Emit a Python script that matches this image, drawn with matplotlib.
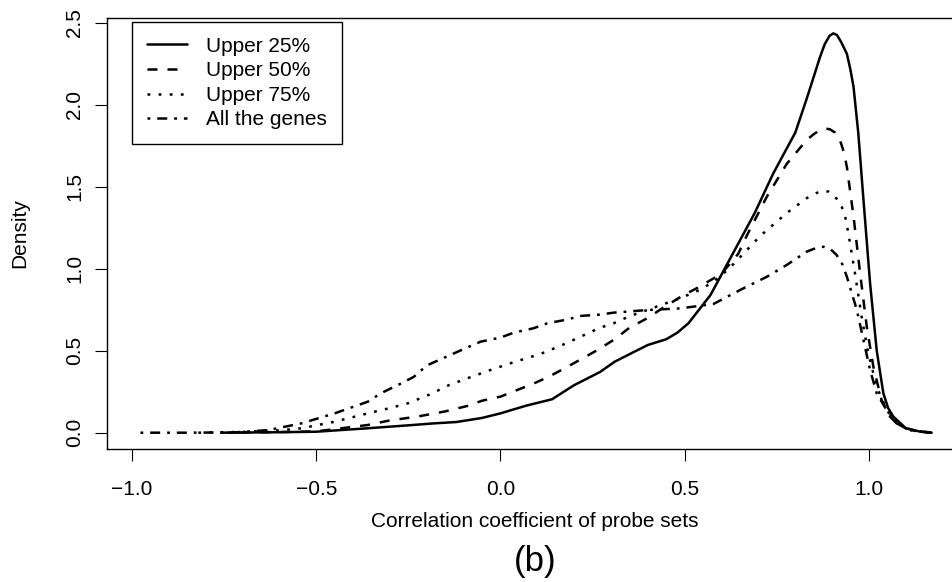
import matplotlib
matplotlib.use("Agg")
import matplotlib.pyplot as plt

plt.rcParams["font.family"] = ["Liberation Sans", "DejaVu Sans"]
plt.rcParams["lines.scale_dashes"] = False

# Kernel density estimates of probe-set correlation coefficients
upper25_x = [-0.74, -0.60, -0.50, -0.36, -0.25, -0.18, -0.12, -0.05, 0.00, 0.07,
             0.14, 0.20, 0.27, 0.31, 0.36, 0.40, 0.45, 0.48, 0.51, 0.57, 0.63,
             0.69, 0.74, 0.80, 0.83, 0.85, 0.867, 0.88, 0.893, 0.903, 0.913, 0.925,
             0.94, 0.949, 0.958, 0.971, 0.985, 1.003, 1.021, 1.039, 1.052, 1.066,
             1.10, 1.14, 1.17]
upper25_y = [0.000, 0.003, 0.006, 0.027, 0.045, 0.057, 0.065, 0.090, 0.118, 0.165,
             0.204, 0.290, 0.370, 0.433, 0.490, 0.535, 0.570, 0.610, 0.667, 0.840, 1.090,
             1.340, 1.580, 1.830, 2.030, 2.170, 2.290, 2.370, 2.420, 2.435, 2.425, 2.380,
             2.310, 2.220, 2.110, 1.826, 1.420, 0.910, 0.500, 0.240, 0.150, 0.098,
             0.027, 0.006, 0.000]

upper50_x = [-0.76, -0.60, -0.50, -0.36, -0.30, -0.226, -0.15, -0.09, -0.05, 0.00,
             0.09, 0.13, 0.18, 0.26, 0.31, 0.35, 0.40, 0.44, 0.49, 0.54, 0.60,
             0.645, 0.668, 0.723, 0.777, 0.831, 0.85, 0.867, 0.88, 0.894, 0.908,
             0.921, 0.932, 0.940, 0.958, 0.976, 0.994, 1.012, 1.034, 1.057, 1.084,
             1.13, 1.17]
upper50_y = [0.000, 0.004, 0.008, 0.047, 0.075, 0.098, 0.130, 0.163, 0.195, 0.220,
             0.300, 0.340, 0.400, 0.500, 0.570, 0.640, 0.700, 0.760, 0.830, 0.890, 0.970,
             1.090, 1.200, 1.440, 1.640, 1.785, 1.820, 1.846, 1.855, 1.850, 1.830,
             1.785, 1.710, 1.620, 1.320, 0.970, 0.646, 0.400, 0.200, 0.098, 0.037,
             0.010, 0.000]

upper75_x = [-0.82, -0.70, -0.60, -0.54, -0.45, -0.36, -0.30, -0.25, -0.19, -0.14,
             -0.086, -0.03, 0.036, 0.108, 0.163, 0.217, 0.27, 0.307, 0.35, 0.398,
             0.45, 0.488, 0.54, 0.578, 0.62, 0.65, 0.705, 0.777, 0.831, 0.855, 0.876,
             0.89, 0.903, 0.915, 0.926, 0.936, 0.944, 0.962, 0.980, 0.998, 1.021,
             1.048, 1.075, 1.11, 1.17]
upper75_y = [0.000, 0.005, 0.014, 0.027, 0.067, 0.118, 0.150, 0.180, 0.235, 0.290,
             0.335, 0.380, 0.430, 0.480, 0.530, 0.585, 0.640, 0.667, 0.710, 0.748,
             0.790, 0.820, 0.870, 0.920, 1.000, 1.070, 1.200, 1.340, 1.430, 1.460, 1.475,
             1.470, 1.449, 1.420, 1.378, 1.310, 1.216, 0.972, 0.707, 0.484, 0.280,
             0.138, 0.057, 0.015, 0.000]

all_x = [-0.977, -0.85, -0.72, -0.63, -0.54, -0.45, -0.36, -0.325, -0.27, -0.235,
         -0.20, -0.14, -0.10, -0.054, 0.00, 0.036, 0.09, 0.127, 0.181, 0.217, 0.27,
         0.307, 0.398, 0.488, 0.578, 0.65, 0.723, 0.777, 0.831, 0.855, 0.876, 0.895,
         0.912, 0.927, 0.940, 0.967, 0.985, 1.003, 1.021, 1.048, 1.075, 1.11, 1.17]
all_y = [0.000, 0.000, 0.002, 0.016, 0.057, 0.118, 0.189, 0.240, 0.300, 0.341,
         0.410, 0.470, 0.510, 0.555, 0.580, 0.610, 0.637, 0.667, 0.690, 0.712, 0.720,
         0.732, 0.748, 0.758, 0.785, 0.870, 0.951, 1.023, 1.104, 1.125, 1.134, 1.120,
         1.084, 1.030, 0.951, 0.748, 0.565, 0.382, 0.240, 0.138, 0.057, 0.015, 0.000]

series_labels = ["Upper 25%", "Upper 50%", "Upper 75%", "All the genes"]
x_ticks = [-1.0, -0.5, 0.0, 0.5, 1.0]
y_ticks = [0.0, 0.5, 1.0, 1.5, 2.0, 2.5]

W, H = 953, 582
fig = plt.figure(figsize=(W / 100, H / 100), dpi=100)
ax = fig.add_axes([107 / W, (H - 449) / H, (963 - 107) / W, (449 - 18) / H])

lw = 1.8
styles = [
    dict(linestyle="-"),
    dict(linestyle=(0, (7.2, 7.2))),
    dict(linestyle=(0, (2.0, 6.0))),
    dict(linestyle=(0, (2.0, 5.0, 7.2, 5.0))),
]
data = [(upper25_x, upper25_y), (upper50_x, upper50_y),
        (upper75_x, upper75_y), (all_x, all_y)]
for (xs, ys), lab, st in zip(data, series_labels, styles):
    ax.plot(xs, ys, color="black", lw=lw, label=lab,
            solid_joinstyle="round", solid_capstyle="round",
            dash_joinstyle="round", **st)

ax.set_xlim(-1.0678, 1.2551)
ax.set_ylim(-0.0994, 2.5287)
ax.set_xticks(x_ticks)
ax.set_yticks(y_ticks)
ax.set_xticklabels([f"{v:.1f}".replace("-", "\u2212") for v in x_ticks])
ax.set_yticklabels([f"{v:.1f}" for v in y_ticks], rotation=90, va="center")

for s in ax.spines.values():
    s.set_linewidth(1.0)
ax.tick_params(axis="both", direction="out", length=8.6, width=0.8,
               labelsize=15, colors="black")
ax.tick_params(axis="x", pad=14)
ax.tick_params(axis="y", pad=8)

ax.set_xlabel("Correlation coefficient of probe sets", fontsize=15)
ax.xaxis.set_label_coords(0.5, -0.147)
ax.set_ylabel("Density", fontsize=15, va="center")
ax.yaxis.set_label_coords(-0.1016, 0.5)

leg = ax.legend(loc="upper left", bbox_to_anchor=((132 - 107) / 856, (449 - 22) / 431),
                borderaxespad=0, fontsize=15, handlelength=1.92, handletextpad=0.95,
                borderpad=0.7, labelspacing=0.27, fancybox=False, framealpha=1,
                edgecolor="black")
leg.get_frame().set_linewidth(1.0)

fig.text(535 / W, 1 - 561.5 / H, "(b)", fontsize=25, ha="center", va="center")

fig.savefig("out.png", dpi=100)
